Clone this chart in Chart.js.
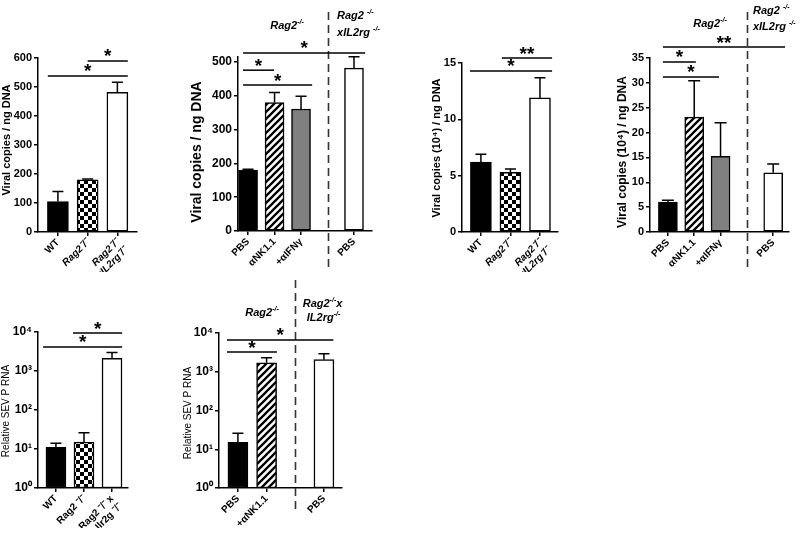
<!DOCTYPE html>
<html><head><meta charset="utf-8">
<script src="https://cdn.jsdelivr.net/npm/chart.js@4.4.1/dist/chart.umd.min.js"></script>
<style>
html,body{margin:0;padding:0;background:#fff;}
#wrap{position:relative;width:800px;height:540px;overflow:hidden;background:#fff;}
canvas{position:absolute;left:0;top:0;}
</style></head><body><div id="wrap">
<canvas id="p1" width="800" height="540"></canvas>
<canvas id="p2" width="800" height="540"></canvas>
<canvas id="p3" width="800" height="540"></canvas>
<canvas id="p4" width="800" height="540"></canvas>
<canvas id="p5" width="800" height="540"></canvas>
<canvas id="p6" width="800" height="540"></canvas>
</div>
<script>
// ---------- DATA ----------
// Panel 1: viral copies / ng DNA
const p1Cats = ['WT', 'Rag2⁻/⁻', ['Rag2⁻/⁻', 'xIL2rg⁻/⁻']];
const p1Slots = [0, 1, 2];
const p1Means = [105, 180, 482];
const p1ErrTop = [140, 183, 516];
const p1Fills = ['black', 'checker', 'white'];
const p1YTicks = [0, 100, 200, 300, 400, 500, 600];

// Panel 2: viral copies / ng DNA, depletion
const p2Cats = ['PBS', 'αNK1.1', '+αIFNγ', 'PBS'];
const p2Slots = [0, 1, 2, 4];
const p2Means = [180, 380, 361, 482];
const p2ErrTop = [183, 410, 399, 516];
const p2Fills = ['black', 'hatch', 'grey', 'white'];
const p2YTicks = [0, 100, 200, 300, 400, 500];

// Panel 3: viral copies (10^4) / ng DNA
const p3Cats = ['WT', 'Rag2⁻/⁻', ['Rag2⁻/⁻', 'xIL2rg⁻/⁻']];
const p3Slots = [0, 1, 2];
const p3Means = [6.2, 5.3, 11.9];
const p3ErrTop = [6.9, 5.6, 13.7];
const p3Fills = ['black', 'checker', 'white'];
const p3YTicks = [0, 5, 10, 15];

// Panel 4: viral copies (10^4) / ng DNA, depletion
const p4Cats = ['PBS', 'αNK1.1', '+αIFNγ', 'PBS'];
const p4Slots = [0, 1, 2, 4];
const p4Means = [6.0, 23.1, 15.2, 11.9];
const p4ErrTop = [6.4, 30.4, 22.0, 13.7];
const p4Fills = ['black', 'hatch', 'grey', 'white'];
const p4YTicks = [0, 5, 10, 15, 20, 25, 30, 35];

// Panel 5: relative SEV P RNA (log)
const p5Cats = ['WT', 'Rag2 ⁻/⁻', ['Rag2 ⁻/⁻ x', 'Ilr2g ⁻/⁻']];
const p5Slots = [0, 1, 2];
const p5Means = [11, 15, 2100];
const p5ErrTop = [14, 26, 3000];
const p5Fills = ['black', 'checker', 'white'];

// Panel 6: relative SEV P RNA (log), depletion
const p6Cats = ['PBS', '+αNK1.1', 'PBS'];
const p6Slots = [0, 1, 3];
const p6Means = [15, 1700, 2050];
const p6ErrTop = [26, 2300, 2900];
const p6Fills = ['black', 'hatch', 'white'];

const logTicks = [1, 10, 100, 1000, 10000];
const logTickLabels = ['10⁰', '10¹', '10²', '10³', '10⁴'];

// ---------- RENDERING ----------
const FAM = '"Liberation Sans", Arial, Helvetica, sans-serif';
Chart.defaults.font.family = FAM;
Chart.defaults.color = '#000';

function makePatterns(ctx) {
  const ck = document.createElement('canvas'); ck.width = 8; ck.height = 8;
  const c = ck.getContext('2d');
  c.fillStyle = '#fff'; c.fillRect(0, 0, 8, 8);
  c.fillStyle = '#000'; c.fillRect(0, 0, 4, 4); c.fillRect(4, 4, 4, 4);
  const ht = document.createElement('canvas'); ht.width = 7; ht.height = 7;
  const h = ht.getContext('2d');
  h.fillStyle = '#fff'; h.fillRect(0, 0, 7, 7);
  h.strokeStyle = '#000'; h.lineWidth = 2.3; h.beginPath();
  h.moveTo(-2, 9); h.lineTo(9, -2);
  h.moveTo(-2, 2); h.lineTo(2, -2);
  h.moveTo(5, 9); h.lineTo(9, 5);
  h.stroke();
  return { black: '#000', grey: '#808080', white: '#fff',
    checker: ctx.createPattern(ck, 'repeat'), hatch: ctx.createPattern(ht, 'repeat') };
}

function drawRich(ctx, str, x, y, size, align, style) {
  const parts = []; const re = /\^\{([^}]*)\}/g; let last = 0, m;
  while ((m = re.exec(str))) {
    if (m.index > last) parts.push({ t: str.slice(last, m.index) });
    parts.push({ t: m[1], sup: true }); last = re.lastIndex;
  }
  if (last < str.length) parts.push({ t: str.slice(last) });
  const fMain = `${style} ${size}px ${FAM}`;
  const fSup = `${style} ${Math.round(size * 0.65)}px ${FAM}`;
  let w = 0;
  parts.forEach(p => { ctx.font = p.sup ? fSup : fMain; p.w = ctx.measureText(p.t).width; w += p.w; });
  let cx = align === 'center' ? x - w / 2 : align === 'right' ? x - w : x;
  ctx.textAlign = 'left'; ctx.textBaseline = 'alphabetic'; ctx.fillStyle = '#000';
  parts.forEach(p => { ctx.font = p.sup ? fSup : fMain; ctx.fillText(p.t, cx, p.sup ? y - size * 0.42 : y); cx += p.w; });
}

function panel(id, p) {
  const canvas = document.getElementById(id);
  const ctx = canvas.getContext('2d');
  const pats = makePatterns(ctx);
  const A = p.area;
  const xH = 40;
  const decor = {
    id: 'decor' + id,
    afterDatasetsDraw(chart) {
      const c = chart.ctx;
      const xs = chart.scales.x, ys = chart.scales.y;
      c.save();
      // error bars (upper only)
      const meta = chart.getDatasetMeta(0);
      c.strokeStyle = '#000'; c.lineWidth = 1.5;
      meta.data.forEach((bar, i) => {
        const yT = ys.getPixelForValue(p.errTop[i]);
        c.beginPath();
        c.moveTo(bar.x, bar.y); c.lineTo(bar.x, yT);
        c.moveTo(bar.x - p.cap, yT); c.lineTo(bar.x + p.cap, yT);
        c.stroke();
      });
      // dashed separator
      (p.dashes || []).forEach(d => {
        const x = Math.round(xs.getPixelForValue(d.x)) + 0.5;
        c.save(); c.setLineDash([8, 5]); c.strokeStyle = '#333'; c.lineWidth = 1.6;
        c.beginPath(); c.moveTo(x, d.y1); c.lineTo(x, d.y2); c.stroke(); c.restore();
      });
      // significance bars
      (p.sigs || []).forEach(s => {
        const y = ys.getPixelForValue(s.y);
        const x1 = xs.getPixelForValue(s.x1), x2 = xs.getPixelForValue(s.x2);
        c.beginPath(); c.moveTo(x1, y); c.lineTo(x2, y); c.stroke();
        c.font = `bold 19px ${FAM}`; c.textAlign = 'center'; c.textBaseline = 'alphabetic'; c.fillStyle = '#000';
        const m = c.measureText(s.t);
        const off = (m.actualBoundingBoxAscent - m.actualBoundingBoxDescent) / 2;
        c.fillText(s.t, (x1 + x2) / 2, y - 8 + off);
      });
      // group labels
      (p.groups || []).forEach(g => {
        drawRich(c, g.t, xs.getPixelForValue(g.x), g.y, g.size || 11, g.align, 'italic bold');
      });
      // y title
      c.save();
      c.translate(p.title.x, p.title.y); c.rotate(-Math.PI / 2);
      c.font = p.title.font; c.textAlign = 'center'; c.textBaseline = 'middle'; c.fillStyle = '#000';
      c.fillText(p.title.text, 0, 0);
      c.restore();
      c.restore();
    }
  };
  return new Chart(canvas, {
    type: 'bar',
    data: { datasets: [{
      data: p.means.map((v, i) => ({ x: p.slots[i], y: v })),
      backgroundColor: p.fills.map(f => pats[f]),
      borderColor: '#000', borderWidth: 1.5, borderSkipped: false,
      barThickness: p.barW
    }] },
    options: {
      responsive: false, animation: false, devicePixelRatio: 1,
      layout: { padding: { left: A.l - p.yW, right: 800 - A.r, top: A.t, bottom: 540 - A.b - xH } },
      plugins: { legend: { display: false }, tooltip: { enabled: false }, title: { display: false } },
      scales: {
        x: {
          type: 'linear', min: p.xMin, max: p.xMax, offset: false,
          afterBuildTicks: ax => { ax.ticks = p.slots.map(v => ({ value: v })); },
          afterFit: s => { s.height = xH; },
          ticks: {
            autoSkip: false, minRotation: 45, maxRotation: 45, padding: 1, color: '#000',
            callback: v => p.cats[p.slots.indexOf(v)],
            font: c => ({ family: FAM, size: p.xFont || 10, weight: 'bold',
              style: (p.italic && p.italic[c.index]) ? 'italic' : 'normal', lineHeight: 1.15 })
          },
          grid: { display: true, offset: false, drawOnChartArea: false, drawTicks: true, tickLength: 4, color: '#000', lineWidth: 1.5 },
          border: { display: true, color: '#000', width: 1.5 }
        },
        y: {
          type: p.log ? 'logarithmic' : 'linear', min: p.yMin, max: p.yMax,
          afterBuildTicks: ax => { ax.ticks = p.yTicks.map(v => ({ value: v })); },
          afterFit: s => { s.width = p.yW; },
          ticks: {
            padding: 2, color: '#000',
            callback: (v, i) => p.yLabels ? p.yLabels[i] : String(v),
            font: { family: FAM, size: p.yFont || 11, weight: 'bold' }
          },
          grid: { display: true, drawOnChartArea: false, drawTicks: true, tickLength: 4, color: '#000', lineWidth: 1.5 },
          border: { display: true, color: '#000', width: 1.5 }
        }
      }
    },
    plugins: [decor]
  });
}

panel('p1', {
  cats: p1Cats, slots: p1Slots, means: p1Means, errTop: p1ErrTop, fills: p1Fills,
  italic: [false, true, true], yTicks: p1YTicks, yMin: 0, yMax: 600,
  area: { l: 38, r: 137, t: 58, b: 232 }, xMin: -0.67, xMax: 2.66, barW: 21, cap: 5.5, yW: 30,
  title: { text: 'Viral copies / ng DNA', x: 7, y: 140, font: `bold 11px ${FAM}` },
  sigs: [{ x1: 1, x2: 2.35, y: 590, t: '*' }, { x1: -0.34, x2: 2.35, y: 538, t: '*' }]
});

panel('p2', {
  cats: p2Cats, slots: p2Slots, means: p2Means, errTop: p2ErrTop, fills: p2Fills,
  yTicks: p2YTicks, yMin: 0, yMax: 515, yFont: 12,
  area: { l: 238, r: 372, t: 57, b: 231 }, xMin: -0.38, xMax: 4.68, barW: 19, cap: 5.5, yW: 32,
  title: { text: 'Viral copies / ng DNA', x: 197, y: 152, font: `bold 14px ${FAM}` },
  sigs: [{ x1: -0.19, x2: 4.42, y: 527, t: '*' }, { x1: -0.19, x2: 0.98, y: 476, t: '*' }, { x1: -0.19, x2: 2.42, y: 432, t: '*' }],
  dashes: [{ x: 3, y1: 12, y2: 268 }],
  groups: [{ x: 1.47, y: 29, t: 'Rag2^{-/-}', align: 'center' },
           { x: 3.36, y: 19, t: 'Rag2 ^{-/-}', align: 'left' },
           { x: 3.36, y: 36, t: 'xIL2rg ^{-/-}', align: 'left' }]
});

panel('p3', {
  cats: p3Cats, slots: p3Slots, means: p3Means, errTop: p3ErrTop, fills: p3Fills,
  italic: [false, true, true], yTicks: p3YTicks, yMin: 0, yMax: 15,
  area: { l: 462, r: 558, t: 63, b: 232 }, xMin: -0.64, xMax: 2.61, barW: 21, cap: 5.5, yW: 24,
  title: { text: 'Viral copies (10⁴) / ng DNA', x: 437, y: 148, font: `bold 11px ${FAM}` },
  sigs: [{ x1: 0.71, x2: 2.41, y: 15.44, t: '**' }, { x1: -0.37, x2: 2.41, y: 14.29, t: '*' }]
});

panel('p4', {
  cats: p4Cats, slots: p4Slots, means: p4Means, errTop: p4ErrTop, fills: p4Fills,
  yTicks: p4YTicks, yMin: 0, yMax: 35,
  area: { l: 650, r: 789, t: 58, b: 232 }, xMin: -0.68, xMax: 4.6, barW: 19, cap: 6, yW: 24,
  title: { text: 'Viral copies (10⁴) / ng DNA', x: 623, y: 152, font: `bold 12px ${FAM}` },
  sigs: [{ x1: -0.19, x2: 4.45, y: 37.2, t: '**' }, { x1: -0.19, x2: 1.06, y: 34.2, t: '*' }, { x1: -0.19, x2: 1.94, y: 31.2, t: '*' }],
  dashes: [{ x: 3, y1: 12, y2: 268 }],
  groups: [{ x: 1.6, y: 27, t: 'Rag2^{-/-}', align: 'center' },
           { x: 3.23, y: 14, t: 'Rag2 ^{-/-}', align: 'left' },
           { x: 3.23, y: 30, t: 'xIL2rg ^{-/-}', align: 'left' }]
});

panel('p5', {
  cats: p5Cats, slots: p5Slots, means: p5Means, errTop: p5ErrTop, fills: p5Fills,
  log: true, yTicks: logTicks, yLabels: logTickLabels, yMin: 1, yMax: 10000, yFont: 12,
  area: { l: 38, r: 128, t: 332, b: 488 }, xMin: -0.64, xMax: 2.57, barW: 20, cap: 5.5, yW: 28,
  title: { text: 'Relative SEV P RNA', x: 6, y: 411, font: `10px ${FAM}` },
  sigs: [{ x1: 0.61, x2: 2.36, y: 9420, t: '*' }, { x1: -0.46, x2: 2.36, y: 4125, t: '*' }]
});

panel('p6', {
  cats: p6Cats, slots: p6Slots, means: p6Means, errTop: p6ErrTop, fills: p6Fills,
  log: true, yTicks: logTicks, yLabels: logTickLabels, yMin: 1, yMax: 10000, yFont: 12,
  area: { l: 219, r: 342, t: 333, b: 488 }, xMin: -0.66, xMax: 3.63, barW: 20, cap: 5.5, yW: 28,
  title: { text: 'Relative SEV P RNA', x: 188, y: 413, font: `10px ${FAM}` },
  sigs: [{ x1: -0.38, x2: 3.33, y: 6600, t: '*' }, { x1: -0.38, x2: 1.36, y: 3230, t: '*' }],
  dashes: [{ x: 2, y1: 280, y2: 513 }],
  groups: [{ x: 0.84, y: 316, t: 'Rag2^{-/-}', align: 'center' },
           { x: 2.26, y: 307, t: 'Rag2^{-/-}x', align: 'left' },
           { x: 2.4, y: 321, t: 'IL2rg^{-/-}', align: 'left' }]
});
</script>
</body></html>
